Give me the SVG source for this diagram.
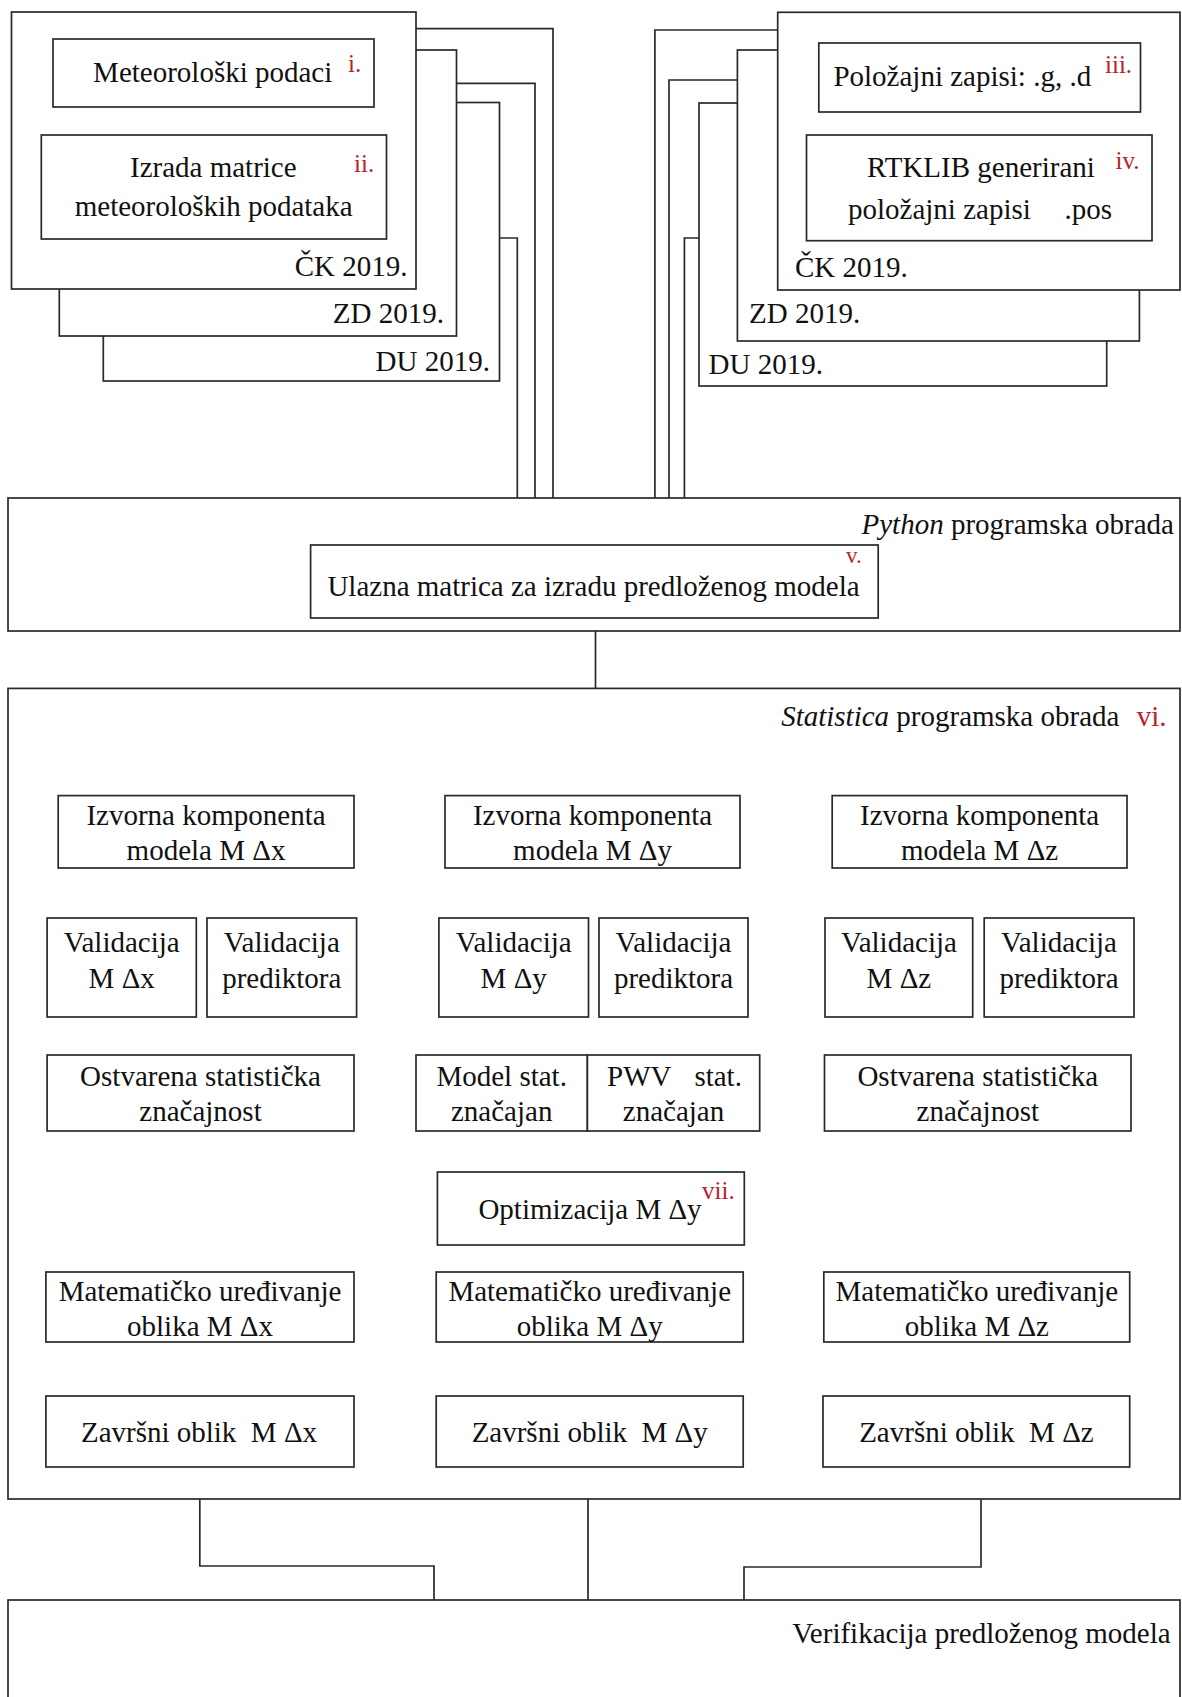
<svg xmlns="http://www.w3.org/2000/svg" width="1182" height="1697" viewBox="0 0 1182 1697">
<style>
.b{fill:#fff;stroke:#2a2a2a;stroke-width:1.7}
.w{fill:none;stroke:#2a2a2a;stroke-width:1.7}
.t{font-family:"Liberation Serif","Times New Roman",serif;font-size:29px;fill:#111}
.c{text-anchor:middle}
.e{text-anchor:end}
.r{font-family:"Liberation Serif","Times New Roman",serif;font-size:25px;fill:#b8232b}
</style>
<rect x="0" y="0" width="1182" height="1697" fill="#fff"/>

<g id="connectors">
<path class="w" d="M208.5 107V135"/>
<path class="w" d="M982 112V135"/>
<path class="w" d="M416 28.7H553V498"/>
<path class="w" d="M456.5 83.4H535V498"/>
<path class="w" d="M499.5 238H517.3V498"/>
<path class="w" d="M777.7 30H654.9V498"/>
<path class="w" d="M737.4 80H669V498"/>
<path class="w" d="M699 238H684.4V498"/>
<path class="w" d="M595.5 618V688.4"/>
<path class="w" d="M128.2 868V918M282 868V918M126.3 1017V1055M287.8 1017V1055M199.7 1131V1272M199.7 1342V1396"/>
<path class="w" d="M485.2 868V918M675.2 868V918M516.6 1017V1055M673.3 1017V1055M515.8 1131V1150.6H669.5V1131M588 1150.6V1172M588 1245V1272M588 1342V1396"/>
<path class="w" d="M902.5 868V918M1058.7 868V918M898.6 1017V1055M1056 1017V1055M982 1131V1272M982 1342V1396"/>
<path class="w" d="M199.8 1467V1566H434V1600M588 1467V1600M981 1467V1567H744V1600"/>
</g>

<g id="left-DU">
<rect class="b" x="103.3" y="102.5" width="396.2" height="278.5"/>
<text class="t e" x="490" y="371">DU 2019.</text>
</g>
<g id="left-ZD">
<rect class="b" x="59.3" y="50" width="397.2" height="286"/>
<text class="t e" x="444" y="323">ZD 2019.</text>
</g>
<g id="left-CK">
<rect class="b" x="11.5" y="12" width="404.5" height="277"/>
<text class="t e" x="407.5" y="275.5">ČK 2019.</text>
</g>
<g id="meteo">
<rect class="b" x="53" y="39" width="321" height="68"/>
<text class="t c" x="212.7" y="82.3">Meteorološki podaci</text>
<text class="r" x="348" y="72">i.</text>
</g>
<g id="izrada">
<rect class="b" x="41.3" y="135" width="345.2" height="104"/>
<text class="t c" x="213.3" y="176.8">Izrada matrice</text>
<text class="t c" x="213.7" y="216.2">meteoroloških podataka</text>
<text class="r" x="354" y="172">ii.</text>
</g>

<g id="right-DU">
<rect class="b" x="699" y="103" width="407.7" height="283"/>
<text class="t" x="708.6" y="374.3">DU 2019.</text>
</g>
<g id="right-ZD">
<rect class="b" x="737.4" y="50" width="402" height="291"/>
<text class="t" x="749" y="323.3">ZD 2019.</text>
</g>
<g id="right-CK">
<rect class="b" x="777.7" y="12.3" width="402.3" height="277.7"/>
<text class="t" x="795" y="277.2">ČK 2019.</text>
</g>
<g id="polozajni">
<rect class="b" x="818.8" y="43" width="321.7" height="69"/>
<text class="t" x="833.4" y="86.4">Položajni zapisi: .g, .d</text>
<text class="r" x="1105" y="73">iii.</text>
</g>
<g id="rtklib">
<rect class="b" x="806.5" y="135" width="345.5" height="105.7"/>
<text class="t c" x="981" y="177.4">RTKLIB generirani</text>
<text class="t" x="848" y="218.8">položajni zapisi</text>
<text class="t" x="1064.5" y="218.8">.pos</text>
<text class="r" x="1115.5" y="169">iv.</text>
</g>

<g id="python">
<rect class="b" x="8" y="498" width="1172" height="133"/>
<text class="t e" x="1174" y="534"><tspan font-style="italic">Python</tspan> programska obrada</text>
</g>
<g id="ulazna">
<rect class="b" x="310.6" y="545" width="567.6" height="73"/>
<text class="t c" x="593.5" y="596">Ulazna matrica za izradu predloženog modela</text>
<text class="r" x="846" y="563" style="font-size:23px">v.</text>
</g>

<g id="statistica">
<rect class="b" x="8" y="688.4" width="1172" height="810.6"/>
<text class="t e" x="1119.4" y="726"><tspan font-style="italic">Statistica</tspan> programska obrada</text>
<text class="r" x="1136.7" y="726" style="font-size:29px">vi.</text>
</g>

<g id="izvorna-x">
<rect class="b" x="58.2" y="795.6" width="295.8" height="72.4"/>
<text class="t c" x="206" y="825">Izvorna komponenta</text>
<text class="t c" x="206" y="859.5">modela M Δx</text>
</g>
<g id="izvorna-y">
<rect class="b" x="445" y="795.6" width="295" height="72.4"/>
<text class="t c" x="592.5" y="825">Izvorna komponenta</text>
<text class="t c" x="592.5" y="859.5">modela M Δy</text>
</g>
<g id="izvorna-z">
<rect class="b" x="832.2" y="795.6" width="294.8" height="72.4"/>
<text class="t c" x="979.6" y="825">Izvorna komponenta</text>
<text class="t c" x="979.6" y="859.5">modela M Δz</text>
</g>

<g id="val-mx">
<rect class="b" x="47.1" y="918" width="149.2" height="99"/>
<text class="t c" x="121.7" y="952">Validacija</text>
<text class="t c" x="121.7" y="988">M Δx</text>
</g>
<g id="val-px">
<rect class="b" x="207" y="918" width="149.6" height="99"/>
<text class="t c" x="281.8" y="952">Validacija</text>
<text class="t c" x="281.8" y="988">prediktora</text>
</g>
<g id="val-my">
<rect class="b" x="438.9" y="918" width="149.6" height="99"/>
<text class="t c" x="513.7" y="952">Validacija</text>
<text class="t c" x="513.7" y="988">M Δy</text>
</g>
<g id="val-py">
<rect class="b" x="599" y="918" width="149" height="99"/>
<text class="t c" x="673.5" y="952">Validacija</text>
<text class="t c" x="673.5" y="988">prediktora</text>
</g>
<g id="val-mz">
<rect class="b" x="825" y="918" width="147.7" height="99"/>
<text class="t c" x="898.9" y="952">Validacija</text>
<text class="t c" x="898.9" y="988">M Δz</text>
</g>
<g id="val-pz">
<rect class="b" x="984.2" y="918" width="149.8" height="99"/>
<text class="t c" x="1059" y="952">Validacija</text>
<text class="t c" x="1059" y="988">prediktora</text>
</g>

<g id="ostvarena-x">
<rect class="b" x="47.1" y="1055" width="306.9" height="76"/>
<text class="t c" x="200.5" y="1086">Ostvarena statistička</text>
<text class="t c" x="200.5" y="1121">značajnost</text>
</g>
<g id="model-stat">
<rect class="b" x="416" y="1055" width="171.4" height="76"/>
<text class="t c" x="501.7" y="1086">Model stat.</text>
<text class="t c" x="501.7" y="1121">značajan</text>
</g>
<g id="pwv-stat">
<rect class="b" x="587.4" y="1055" width="172.3" height="76"/>
<text class="t" x="607" y="1086">PWV</text>
<text class="t" x="694.4" y="1086">stat.</text>
<text class="t c" x="673.5" y="1121">značajan</text>
</g>
<g id="ostvarena-z">
<rect class="b" x="824.5" y="1055" width="306.5" height="76"/>
<text class="t c" x="977.8" y="1086">Ostvarena statistička</text>
<text class="t c" x="977.8" y="1121">značajnost</text>
</g>

<g id="optimizacija">
<rect class="b" x="437.4" y="1172" width="306.9" height="73"/>
<text class="t c" x="590" y="1219">Optimizacija M Δy</text>
<text class="r" x="702" y="1199">vii.</text>
</g>

<g id="matematicko-x">
<rect class="b" x="45.9" y="1272" width="308.1" height="70"/>
<text class="t c" x="200" y="1301">Matematičko uređivanje</text>
<text class="t c" x="200" y="1335.5">oblika M Δx</text>
</g>
<g id="matematicko-y">
<rect class="b" x="436.2" y="1272" width="307" height="70"/>
<text class="t c" x="589.7" y="1301">Matematičko uređivanje</text>
<text class="t c" x="589.7" y="1335.5">oblika M Δy</text>
</g>
<g id="matematicko-z">
<rect class="b" x="823.8" y="1272" width="305.9" height="70"/>
<text class="t c" x="976.8" y="1301">Matematičko uređivanje</text>
<text class="t c" x="976.8" y="1335.5">oblika M Δz</text>
</g>

<g id="zavrsni-x">
<rect class="b" x="45.9" y="1396" width="308.1" height="71"/>
<text class="t c" x="199" y="1442" xml:space="preserve">Završni oblik  M Δx</text>
</g>
<g id="zavrsni-y">
<rect class="b" x="436.2" y="1396" width="307" height="71"/>
<text class="t c" x="589.7" y="1442" xml:space="preserve">Završni oblik  M Δy</text>
</g>
<g id="zavrsni-z">
<rect class="b" x="823" y="1396" width="306.7" height="71"/>
<text class="t c" x="976.4" y="1442" xml:space="preserve">Završni oblik  M Δz</text>
</g>

<g id="verifikacija">
<rect class="b" x="8" y="1600" width="1172" height="120"/>
<text class="t e" x="1170.6" y="1643">Verifikacija predloženog modela</text>
</g>
</svg>
